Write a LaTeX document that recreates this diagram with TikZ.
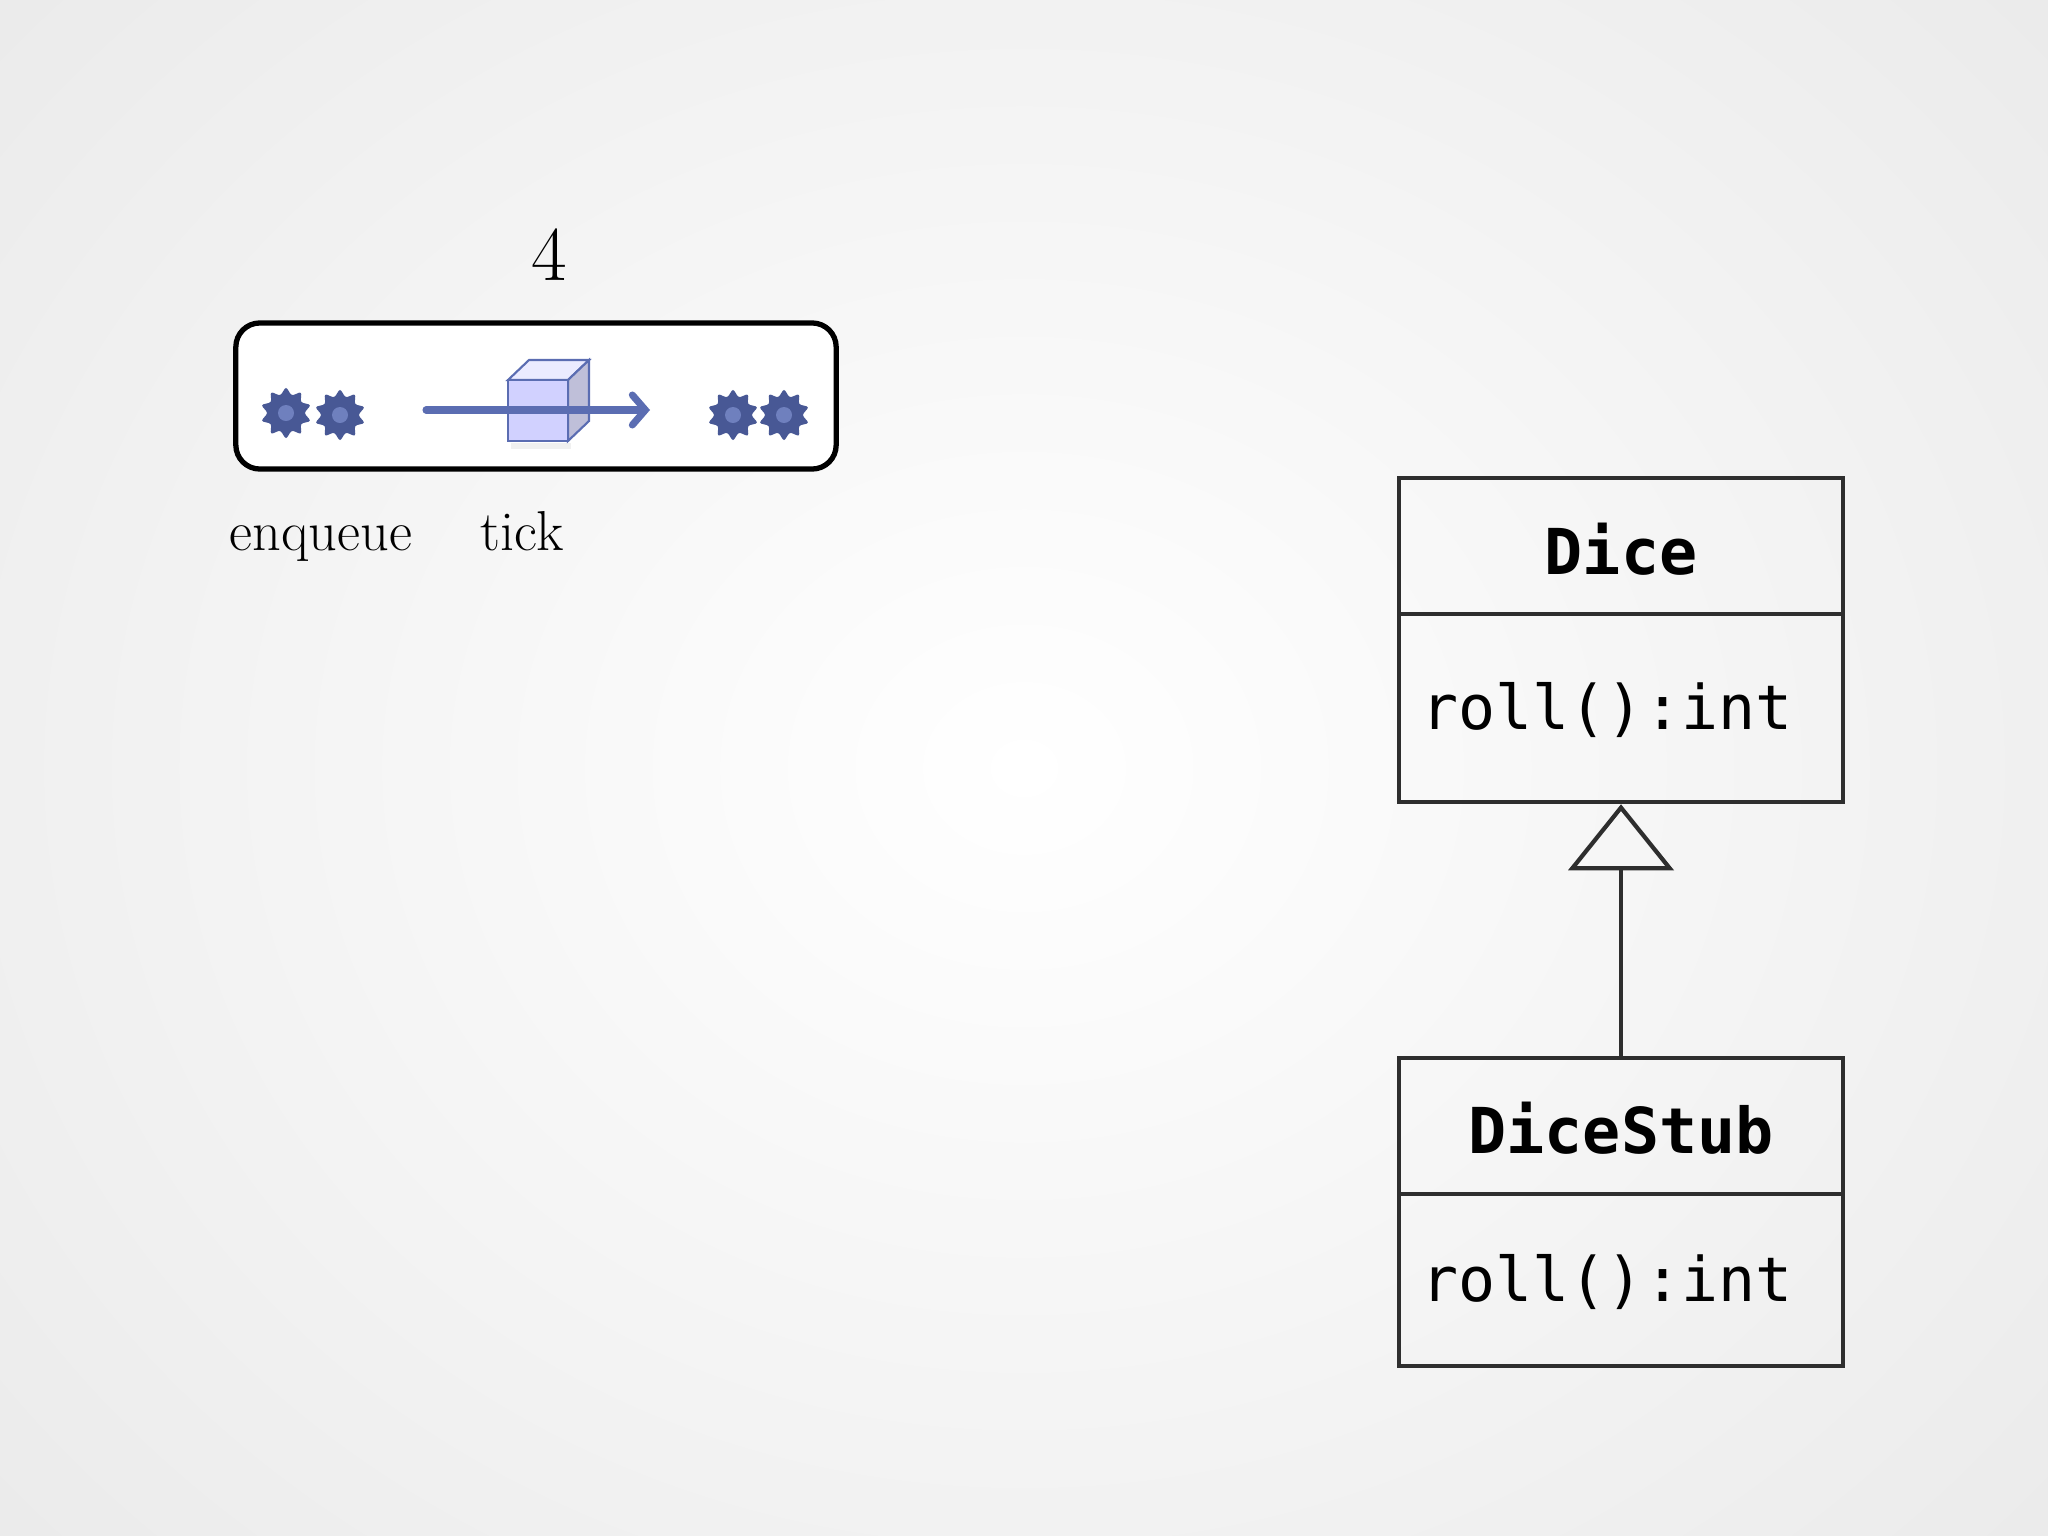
\documentclass[tikz,border=0pt]{standalone}
\usepackage{fontspec}
\newfontfamily\umlmono{DejaVu Sans Mono}
\usetikzlibrary{arrows.meta}
\definecolor{gearc}{HTML}{485895}
\definecolor{gearin}{HTML}{6F80BE}
\definecolor{arrc}{HTML}{5B6DB2}
\definecolor{umlc}{HTML}{2E2E2E}
\tikzset{
  umlbox/.style={draw=umlc, line width=1.2pt, minimum width=4.44cm, inner sep=0pt},
  umltitle/.style={font=\umlmono\bfseries\fontsize{18}{21}\selectfont},
  umlop/.style={font=\umlmono\fontsize{17.5}{21}\selectfont, anchor=west, inner sep=0pt},
  lbl/.style={font=\fontsize{16}{19}\selectfont, anchor=base},
  gear/.pic={
    \fill[gearc, line join=round] plot[smooth cycle, tension=0.6, samples=20, domain=0:342, variable=\t]
      ({\t}:{(0.19+0.06*mod(int(\t/18),2))*1cm});
    \fill[gearin] (0.01,0) circle (0.08cm);
  }
}
\begin{document}
\begin{tikzpicture}[x=0.01cm,y=-0.01cm]
\useasboundingbox (0,0) rectangle (2048,1536);
\shade[inner color=white, outer color=black!10] (-700,-700) rectangle (2748,2236);
% queue
\node[font=\fontsize{22}{26}\selectfont] (num) at (549,255) {4};
\node[draw=black, line width=1.5pt, rounded corners=0.24cm, fill=white,
      minimum width=6cm, minimum height=1.46cm] (queue) at (536,396) {};
\pic at (286,413) {gear};
\pic at (340,415) {gear};
\pic at (733,415) {gear};
\pic at (784,415) {gear};
\coordinate (as) at (426,410);
\coordinate (ae) at (650,410);
% cube
\fill[black, opacity=0.06] (511,443) rectangle (571,449);
\draw[arrc, line width=0.6pt, fill=blue!8] (508,380) -- (529,360) -- (589,360) -- (568,380) -- cycle;
\draw[arrc, line width=0.6pt, fill=blue!25!gray!40] (568,380) -- (589,360) -- (589,421) -- (568,441) -- cycle;
\draw[arrc, line width=0.6pt, fill=blue!18] (508,380) rectangle (568,441);
\draw[arrc, line width=2pt, line cap=round, -{Straight Barb[length=0.13cm,width=0.3cm,line cap=round]}] (as) -- (ae);
\node[lbl] (enq) at (321,550) {enqueue};
\node[lbl] (tick) at (522,550) {tick};
% UML
\node[umlbox, minimum height=3.24cm] (dice) at (1621,640) {};
\draw[umlc, line width=1.2pt] (1399,614) -- (1843,614);
\node[umltitle] (dicet) at (1621,549) {Dice};
\node[umlop] (diceop) at (1421,710) {roll():int};
\node[umlbox, minimum height=3.08cm] (stub) at (1621,1212) {};
\draw[umlc, line width=1.2pt] (1399,1194) -- (1843,1194);
\node[umltitle] (stubt) at (1621,1128) {DiceStub};
\node[umlop] (stubop) at (1421,1282) {roll():int};
\draw[umlc, line width=1.2pt, -{Triangle[open, length=0.66cm, width=1.05cm, line width=1.2pt]}] (stub.north) -- (dice.south);
\end{tikzpicture}
\end{document}
